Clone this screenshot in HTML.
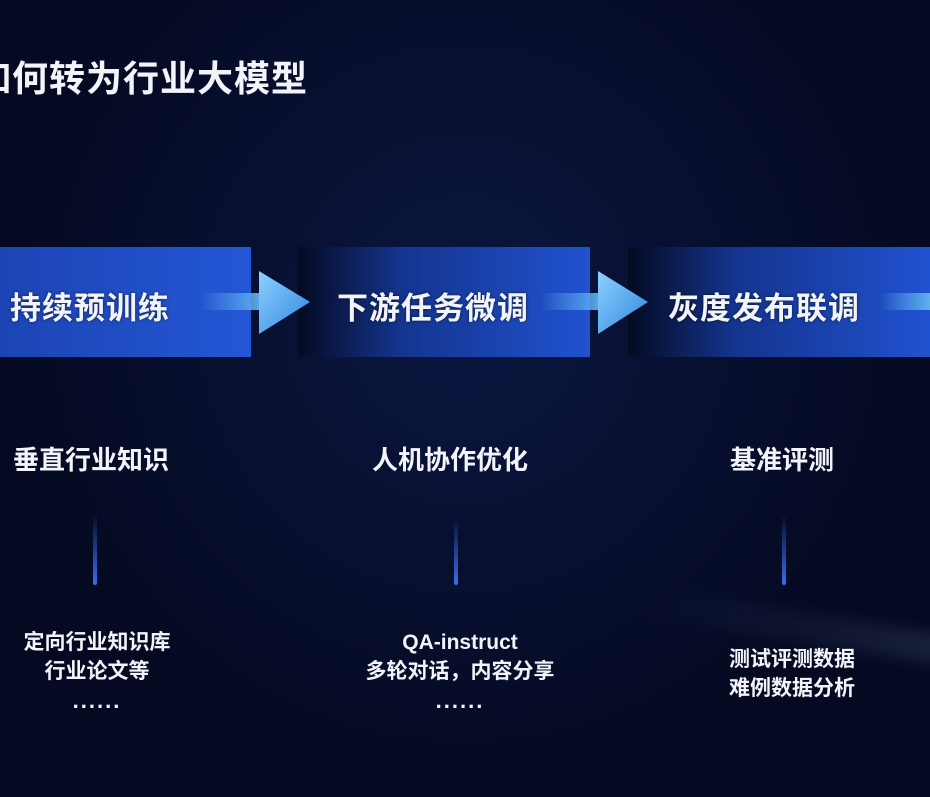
<!DOCTYPE html>
<html><head><meta charset="utf-8"><style>
body{margin:0;width:930px;height:797px;overflow:hidden;background:#050a22;font-family:"Liberation Sans","Noto Sans CJK SC",sans-serif;color:#f2f4f8;position:relative}
.a{position:absolute;white-space:nowrap}
.c{transform:translateX(-50%);text-align:center}
.box{position:absolute;top:247px;height:110px}
.t{font-size:31px;font-weight:bold;top:283px;letter-spacing:1px;text-shadow:0 0 3px rgba(0,0,0,.6)}
.h{font-size:26px;font-weight:bold;top:440px}
.s{font-size:21px;font-weight:bold;line-height:29px}
.d{letter-spacing:2px;font-size:22px}
.ln{position:absolute;top:513px;width:4px;height:72px;border-radius:2px;background:linear-gradient(#050a22,#3a6cf0)}
</style></head><body>
<div style="position:absolute;inset:0;background:radial-gradient(ellipse at 50% 40%,#0b1640 0%,#050a22 70%)"></div>
<div style="position:absolute;left:640px;top:615px;width:360px;height:30px;transform:rotate(9deg);background:linear-gradient(90deg,transparent,rgba(120,150,200,.08),rgba(160,180,220,.16));filter:blur(6px)"></div>
<div class="a" style="left:-25px;top:50px;font-size:36px;font-weight:bold;letter-spacing:1px">如何转为行业大模型</div>

<div class="box" style="left:0;width:251px;background:linear-gradient(90deg,#1c44b4,#2457d6)"></div>
<div class="box" style="left:298px;width:292px;background:linear-gradient(90deg,#050a22,#14348e 35%,#2152d0)"></div>
<div class="box" style="left:628px;width:302px;background:linear-gradient(90deg,#050a22,#14348e 35%,#2152d0)"></div>

<svg style="position:absolute;left:0;top:0" width="930" height="797">
<defs>
<linearGradient id="sh" x1="0" x2="1"><stop offset="0" stop-color="#5fb0f0" stop-opacity="0"/><stop offset="1" stop-color="#5fb0f0"/></linearGradient>
<linearGradient id="hd" x1="0" y1="0" x2="1" y2="1"><stop offset="0" stop-color="#8fd0ff"/><stop offset="1" stop-color="#2e86e0"/></linearGradient>
</defs>
<rect x="200" y="293" width="62" height="17" fill="url(#sh)"/>
<polygon points="259,271 310,302 259,334" fill="url(#hd)"/>
<rect x="540" y="293" width="62" height="17" fill="url(#sh)"/>
<polygon points="598,271 648,302 598,334" fill="url(#hd)"/>
<rect x="880" y="293" width="50" height="17" fill="url(#sh)"/>
</svg>

<div class="a t" style="left:10px">持续预训练</div>
<div class="a t" style="left:337px">下游任务微调</div>
<div class="a t" style="left:668px">灰度发布联调</div>

<div class="a h c" style="left:91px">垂直行业知识</div>
<div class="a h c" style="left:450px">人机协作优化</div>
<div class="a h c" style="left:782px">基准评测</div>

<div class="ln" style="left:93px"></div>
<div class="ln" style="left:454px"></div>
<div class="ln" style="left:782px"></div>

<div class="a s c" style="left:97px;top:628px">定向行业知识库<br>行业论文等<br><span class="d">......</span></div>
<div class="a s c" style="left:460px;top:628px">QA-instruct<br>多轮对话，内容分享<br><span class="d">......</span></div>
<div class="a s c" style="left:792px;top:645px">测试评测数据<br>难例数据分析</div>
</body></html>
